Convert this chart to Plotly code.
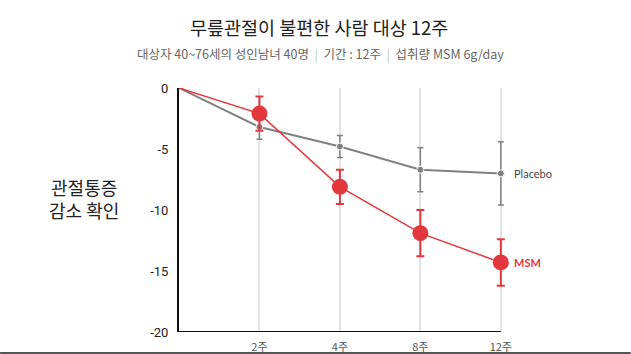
import plotly.graph_objects as go

weeks = ["", "2주", "4주", "8주", "12주"]
xpos = [0, 1, 2, 3, 4]
placebo = [0, -3.2, -4.8, -6.7, -7.0]
placebo_err = [0, 1.0, 0.9, 1.8, 2.6]
msm = [0, -2.1, -8.1, -11.9, -14.3]
msm_err = [0, 1.4, 1.4, 1.9, 1.9]
yticks = [0, -5, -10, -15, -20]
yticklabels = ["0", "-5", "-10", "-15", "-20"]

RED = "#e2383d"
GRAY = "#808080"
CJK = "Noto Sans CJK KR"
XMAX = 4.4
PW = 322 * XMAX / 4  # plot width in px

fig = go.Figure()
fig.add_trace(go.Scatter(
    x=xpos, y=placebo, mode="lines+markers",
    line=dict(color=GRAY, width=2),
    marker=dict(color=GRAY, size=[0, 7, 7, 7, 7], opacity=1),
    error_y=dict(type="data", array=placebo_err, color=GRAY, thickness=1.5, width=3),
    cliponaxis=False, showlegend=False))
fig.add_trace(go.Scatter(
    x=xpos, y=msm, mode="lines+markers",
    line=dict(color=RED, width=1.5),
    marker=dict(color=RED, size=[0, 16, 16, 16, 16], opacity=1, line=dict(width=0)),
    error_y=dict(type="data", array=msm_err, color=RED, thickness=2, width=4),
    cliponaxis=False, showlegend=False))

fig.add_annotation(x=4, y=placebo[-1], text="Placebo", showarrow=False, xanchor="left",
                   xshift=11, font=dict(family="Lato", size=11, color="#444"))
fig.add_annotation(x=4, y=msm[-1], text="<b>MSM</b>", showarrow=False, xanchor="left",
                   xshift=11, font=dict(family="Lato", size=11, color=RED))

fig.add_annotation(xref="paper", yref="paper", x=(319-179)/PW, y=1+(88-27)/244,
                   text="무릎관절이 불편한 사람 대상 12주", showarrow=False, xanchor="center",
                   font=dict(family=CJK, size=18.5, color="#222"), yanchor="middle")
sep = "<span style='color:#c8c8c8'>  |  </span>"
fig.add_annotation(xref="paper", yref="paper", x=(321-179)/PW, y=1+(88-53)/244,
                   text="대상자 40~76세의 성인남녀 40명" + sep + "기간 : 12주" + sep + "섭취량 MSM 6g/day",
                   showarrow=False, xanchor="center",
                   font=dict(family=CJK, size=12.5, color="#666"), yanchor="middle")
fig.add_annotation(xref="paper", yref="paper", x=(84-179)/PW, y=(332-198)/244,
                   text="관절통증<br>감소 확인", showarrow=False, xanchor="center",
                   font=dict(family=CJK, size=18, color="#222"), yanchor="middle", align="center")

# bottom border of the image
fig.add_shape(type="line", xref="paper", yref="paper", x0=-179/PW, x1=(631-179)/PW,
              y0=-(353-332)/244, y1=-(353-332)/244, line=dict(color="#555", width=2))
# x axis line ending at the last category
fig.add_shape(type="line", xref="x", yref="y", x0=0, x1=4, y0=-20, y1=-20,
              line=dict(color="#111", width=2), layer="above")

fig.update_xaxes(range=[0, XMAX], tickvals=xpos, ticktext=weeks, showgrid=True, gridcolor="#e3e3e3",
                 gridwidth=1.5, showline=False, zeroline=False, automargin=False,
                 tickfont=dict(family=CJK, size=11, color="#555"), ticklabelstandoff=7)
fig.update_yaxes(range=[-20, 0], tickvals=yticks, ticktext=yticklabels, showgrid=False,
                 showline=True, linecolor="#111", linewidth=2, zeroline=False, automargin=False,
                 tickfont=dict(family="Roboto", size=13, color="#222"), ticklabelstandoff=6)
fig.update_layout(width=631, height=354,
                  margin=dict(l=179, r=631 - 179 - PW, t=88, b=22, autoexpand=False),
                  plot_bgcolor="white", paper_bgcolor="white")
fig.write_html("out.html")
